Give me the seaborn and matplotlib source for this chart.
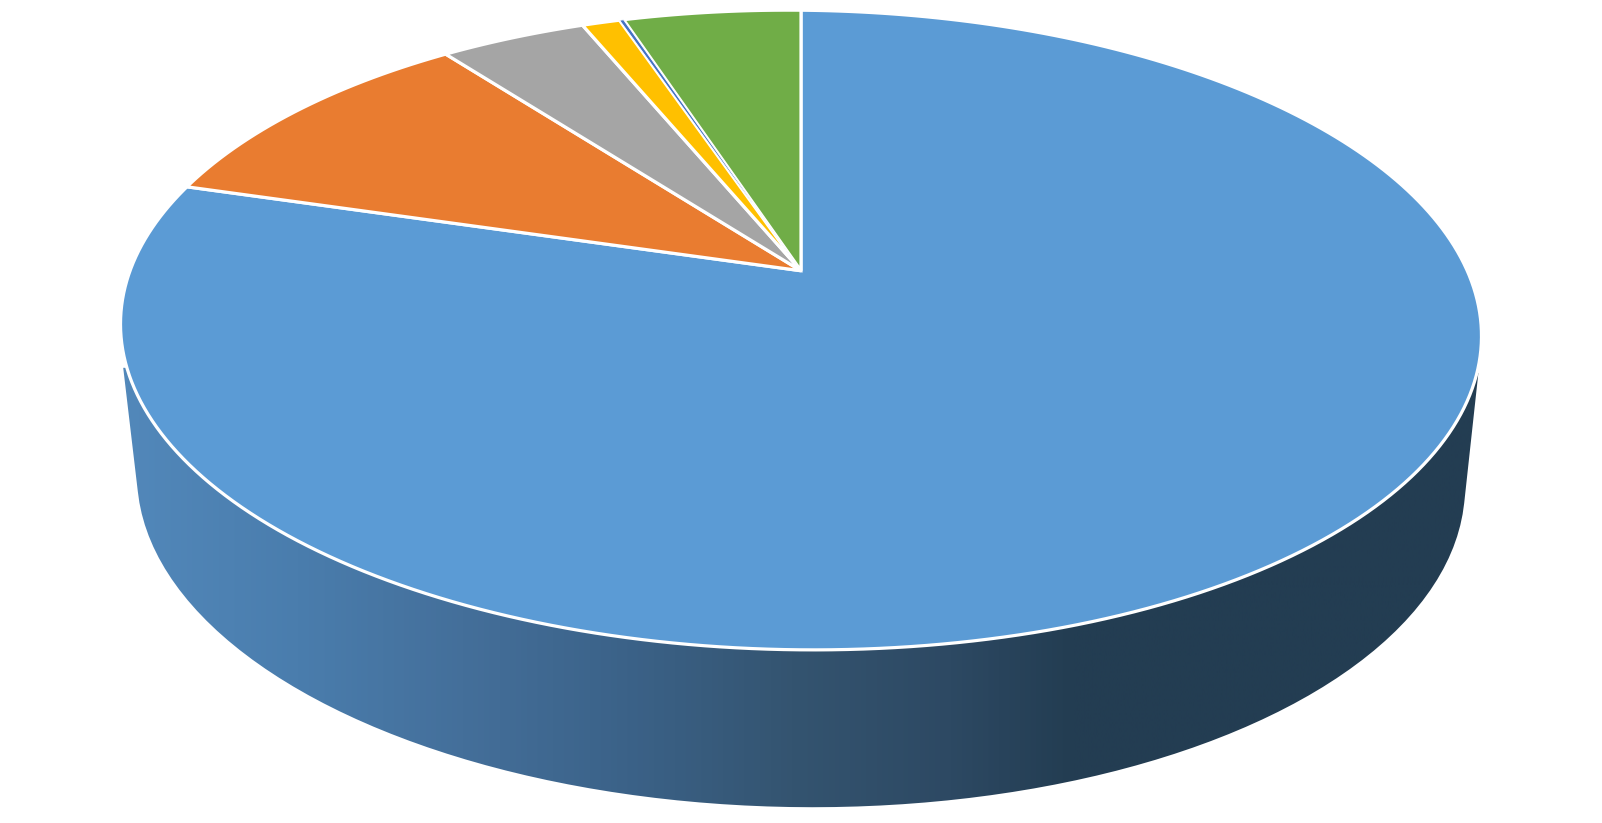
import numpy as np
import matplotlib
matplotlib.use("Agg")
import matplotlib.pyplot as plt
import seaborn as sns
from matplotlib.path import Path
from matplotlib.patches import PathPatch
from matplotlib.transforms import Transform, Affine2D

# ---- data -----------------------------------------------------------
categories = ["A", "B", "C", "D", "E", "F"]
shares = [79.3, 10.27, 4.18, 1.08, 0.12, 5.05]
slice_colors = ["#5B9BD5", "#E97C30", "#A5A5A5", "#FFC000", "#4472C4", "#70AD47"]
side_shades = ["#5288BA", "#4A7DAD", "#446F9A", "#3B6288", "#345470", "#2D4963", "#233D52", "#233D52"]
side_stops_x = [120, 290, 452, 614, 776, 930, 1050, 1450]

# ---- geometry of the tilted drum (canvas units) ----------------------
W, H = 1568.0, 805.5
CX, APEX_Y, TOP_Y, BOTTOM_Y = 784.0, 265.0, 10.0, 636.0
SHEAR = 0.0088
SIDE_CY, SIDE_A, SIDE_B = 470.0, 650.0, 320.0


class Perspective(Transform):
    """Map the unit-circle pie onto the receding ellipse of the top face."""
    input_dims = 2
    output_dims = 2
    is_affine = False
    has_inverse = False

    def __init__(self):
        super().__init__()
        self.c = (2 * APEX_Y - TOP_Y - BOTTOM_Y) / (TOP_Y - BOTTOM_Y)
        self.a = TOP_Y * (1 + self.c) - APEX_Y
        self.k = 654.5

    def transform_non_affine(self, values):
        values = np.asarray(values, dtype=float)
        u, v = values[:, 0], values[:, 1]
        d = self.c * v + 1
        x = self.k * u / d
        y = (self.a * v + APEX_Y) / d
        return np.column_stack([CX + x, y + SHEAR * x])

    def transform_path_non_affine(self, path):
        polys = path.to_polygons(transform=Affine2D().scale(3000), closed_only=True)
        verts = np.vstack(polys) / 3000
        return Path(self.transform_non_affine(verts), closed=True)


sns.set_theme(style="white")
fig = plt.figure(figsize=(16.02, 8.23), dpi=100, facecolor="white")
ax = fig.add_axes([0, 0, 1, 1])

# ---- side wall: gradient clipped to the drum outline -----------------
stops = [(x - side_stops_x[0]) / (side_stops_x[-1] - side_stops_x[0]) for x in side_stops_x]
side_cmap = matplotlib.colors.LinearSegmentedColormap.from_list("side", list(zip(stops, side_shades)))
grad = np.linspace(0, 1, 1024)[None, :]
img = ax.imshow(grad, cmap=side_cmap, aspect="auto", zorder=1,
                extent=[side_stops_x[0], side_stops_x[-1], 800, 340])
t = np.linspace(np.deg2rad(3), np.deg2rad(177), 90)
ex0 = SIDE_A * np.cos(t)
ey0 = SIDE_B * np.sin(t)
ex = CX + ex0
ey = SIDE_CY + ey0 + SHEAR * ex0
outline = np.vstack([[1447, 365], np.column_stack([ex, ey]), [120.6, 360], [1447, 365]])
clip = PathPatch(Path(outline, closed=True), transform=ax.transData, fc="none", ec="none")
ax.add_patch(clip)
img.set_clip_path(clip)

# ---- top face: a real pie pushed through the perspective mapping ------
wedges, _ = ax.pie(shares, colors=slice_colors, startangle=90, counterclock=False, radius=1,
                   wedgeprops=dict(edgecolor="white", linewidth=2.3, joinstyle="miter"))
proj = Perspective()
for w in wedges:
    w.set_transform(proj + ax.transData)
    w.set_zorder(2)
    w.set_clip_on(False)
# the hairline slice sits above its neighbours' white borders
wedges[4].set_zorder(3)
wedges[4].set_linewidth(0.7)

ax.set_aspect("auto")
ax.set_xlim(0, W)
ax.set_ylim(H, 0)
ax.axis("off")
fig.savefig("out.png", dpi=100, facecolor="white")
